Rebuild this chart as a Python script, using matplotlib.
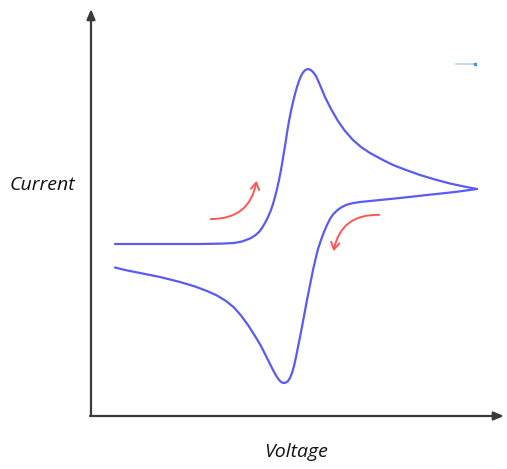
import matplotlib
matplotlib.use("Agg")
import matplotlib.pyplot as plt
from matplotlib.patches import FancyArrowPatch

# Forward scan (screen-space readings: x right, y down)
fwd_x = [115, 160, 200, 222, 234, 242, 250, 255, 259, 262, 265, 268, 271, 273, 275, 277, 279, 281, 283, 285, 287, 289, 291, 293, 295, 297, 299, 301, 303, 305, 307, 309, 311, 313, 316, 320, 325, 331, 338, 345, 353, 361, 370, 381, 393, 406, 420, 435, 450, 464, 477]
fwd_y = [244, 244, 244, 243.6, 243, 241.5, 238.5, 235.5, 232, 228, 223, 217, 210, 204, 197, 189, 180, 170, 158, 146, 133, 121, 111, 102, 94, 87, 81, 76, 72.5, 70.3, 69.2, 69.2, 70.2, 72, 76, 85, 97, 109, 121, 131, 140, 147, 153, 159, 165, 170, 175, 179.5, 183.5, 186.5, 189]
# Reverse scan
rev_x = [477, 455, 427, 400, 380, 370, 360, 352, 346, 341, 337, 333, 330, 327, 324, 321, 318, 316, 313, 310, 307, 304, 301, 298, 296, 294, 292, 290, 288, 286, 284, 282, 280, 278, 276, 273, 270, 266, 261, 255, 248, 241, 234, 226, 217, 207, 195, 180, 160, 140, 125, 115]
rev_y = [189, 192, 195, 198, 200, 201, 202, 203.3, 205, 207.5, 210.5, 214.5, 219, 225, 232, 240, 249, 257, 270, 285, 300, 316, 332, 347, 357, 366, 373, 378, 381, 382.5, 383, 382.5, 381, 378.5, 375.5, 370, 364, 356, 346, 336, 325, 315.5, 307.5, 301, 295.5, 291, 286.5, 282, 277, 273, 270, 267.5]

x_label = "Voltage"
y_label = "Current"

fig = plt.figure(figsize=(5.07, 4.69), dpi=100)
ax = fig.add_axes([0, 0, 1, 1])
ax.set_xlim(0, 507)
ax.set_ylim(469, 0)
ax.axis("off")

blue = "#5a5af5"
ax.plot(fwd_x, fwd_y, color=blue, lw=1.6, solid_capstyle="round", solid_joinstyle="round")
ax.plot(rev_x, rev_y, color=blue, lw=1.6, solid_capstyle="round", solid_joinstyle="round")

# axes with arrows
axc = "#3a3a3a"
ax.annotate("", xy=(91, 9), xytext=(91, 416),
            arrowprops=dict(arrowstyle="-|>,head_length=0.6,head_width=0.25", color=axc, lw=1.6, shrinkA=0, shrinkB=0))
ax.annotate("", xy=(504, 416), xytext=(90, 416),
            arrowprops=dict(arrowstyle="-|>,head_length=0.6,head_width=0.25", color=axc, lw=1.6, shrinkA=0, shrinkB=0))

# red curved arrows
red = "#ff5555"
a1 = FancyArrowPatch((208, 219), (257, 178), connectionstyle="arc3,rad=0.45",
                     arrowstyle="->,head_length=5,head_width=3", color=red, lw=1.4)
ax.add_patch(a1)
a2 = FancyArrowPatch((382, 215), (333, 254), connectionstyle="arc3,rad=0.45",
                     arrowstyle="->,head_length=5,head_width=3", color=red, lw=1.4)
ax.add_patch(a2)

# small blue mark at top right
ax.plot([456, 474], [64, 64], color="#9cc3e8", lw=1.2, alpha=0.7)
ax.plot([475], [64], marker="s", ms=2, color="#4f8fd6")

ax.text(42, 185, y_label, fontsize=14, style="italic", family=["Open Sans", "DejaVu Sans"],
        ha="center", va="center", color="#111111")
ax.text(296, 452, x_label, fontsize=14, style="italic", family=["Open Sans", "DejaVu Sans"],
        ha="center", va="center", color="#111111")

fig.savefig("out.png", dpi=100)
